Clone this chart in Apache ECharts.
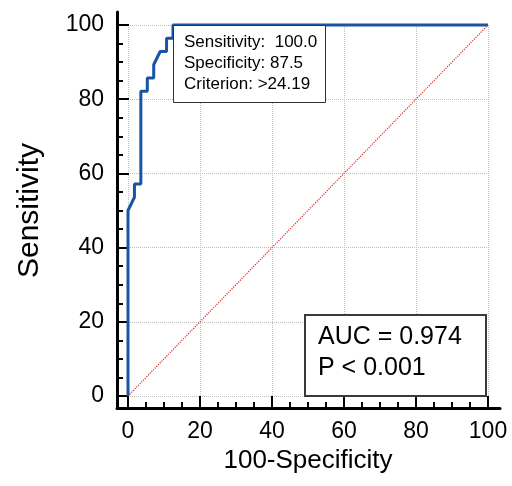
<!DOCTYPE html>
<html>
<head>
<meta charset="utf-8">
<script src="https://cdn.jsdelivr.net/npm/echarts@6/dist/echarts.min.js"></script>
<style>html,body{margin:0;padding:0;background:#fff;}#c{width:512px;height:486px;}</style>
</head>
<body>
<div id="c"></div>
<script>
// ROC curve points (100-Specificity, Sensitivity)
const rocX = [0, 0, 1.79, 1.79, 3.57, 3.57, 5.36, 5.36, 7.14, 7.14, 8.93, 10.71, 10.71, 12.5, 12.5, 100];
const rocY = [0, 50, 53.57, 57.14, 57.14, 82.14, 82.14, 85.71, 85.71, 89.29, 92.86, 92.86, 96.43, 96.43, 100, 100];
// Reference diagonal
const refX = [0, 100];
const refY = [0, 100];
// Annotations
const infoLines = ['Sensitivity:  100.0', 'Specificity: 87.5', 'Criterion: >24.19'];
const aucLines = ['AUC = 0.974', 'P < 0.001'];
const xTitle = '100-Specificity';
const yTitle = 'Sensitivity';

const FONT = '"Liberation Sans", Arial, sans-serif';
const chart = echarts.init(document.getElementById('c'), null, {renderer: 'canvas'});
const frameAxis = {
  type: 'value', gridIndex: 0,
  axisLine: {show: true, onZero: false, lineStyle: {color: '#000', width: 3}},
  axisTick: {show: false}, axisLabel: {show: false}, splitLine: {show: false}
};
const innerCommon = {
  type: 'value', gridIndex: 1, min: 0, max: 100, interval: 20,
  axisLine: {show: false, onZero: false},
  axisTick: {show: true, inside: true, length: 12, lineStyle: {color: '#000', width: 2}},
  minorTick: {show: true, splitNumber: 4, length: 6, lineStyle: {color: '#000', width: 2}},
  splitLine: {show: true, lineStyle: {color: '#bdbdbd', width: 1, type: 'dotted'}},
  axisLabel: {color: '#000', fontSize: 23, fontFamily: FONT},
  nameLocation: 'middle',
  nameTextStyle: {color: '#000', fontSize: 26, fontFamily: FONT}
};
chart.setOption({
  animation: false,
  backgroundColor: '#fff',
  grid: [
    {left: 117, right: 12, top: 12, bottom: 78},
    {left: 128, right: 24, top: 25, bottom: 90}
  ],
  xAxis: [
    Object.assign({}, frameAxis, {min: -3.06, max: 103.3, position: 'bottom'}),
    Object.assign({}, innerCommon, {position: 'bottom', offset: 12, name: xTitle, nameGap: 32,
      axisLabel: Object.assign({}, innerCommon.axisLabel, {margin: 12})})
  ],
  yAxis: [
    Object.assign({}, frameAxis, {min: -3.23, max: 103.5, position: 'left'}),
    Object.assign({}, innerCommon, {position: 'left', offset: 11, name: yTitle, nameGap: 72,
      nameTextStyle: {color: '#000', fontSize: 30, fontFamily: FONT},
      axisLabel: Object.assign({}, innerCommon.axisLabel, {margin: 13})})
  ],
  title: [
    {
      text: infoLines.join('\n'), left: 173, top: 25,
      backgroundColor: '#fff', borderColor: '#333', borderWidth: 1,
      padding: [7, 9, 8, 11],
      textStyle: {fontSize: 17, lineHeight: 21, fontWeight: 'normal', color: '#000', fontFamily: FONT}
    },
    {
      text: aucLines.join('\n'), left: 305, top: 315,
      backgroundColor: '#fff', borderColor: '#3a3a3a', borderWidth: 2,
      padding: [7, 24, 12, 13],
      textStyle: {fontSize: 25, lineHeight: 31, fontWeight: 'normal', color: '#000', fontFamily: FONT}
    }
  ],
  series: [
    {
      type: 'line', xAxisIndex: 1, yAxisIndex: 1, showSymbol: false, clip: false, z: 3,
      data: refX.map((x, i) => [x, refY[i]]),
      lineStyle: {color: '#e02828', width: 1.2, type: 'dotted'}
    },
    {
      type: 'line', xAxisIndex: 1, yAxisIndex: 1, showSymbol: false, clip: false, z: 4,
      data: rocX.map((x, i) => [x, rocY[i]]),
      lineStyle: {color: '#1a55a3', width: 3}
    }
  ]
});
</script>
</body>
</html>
